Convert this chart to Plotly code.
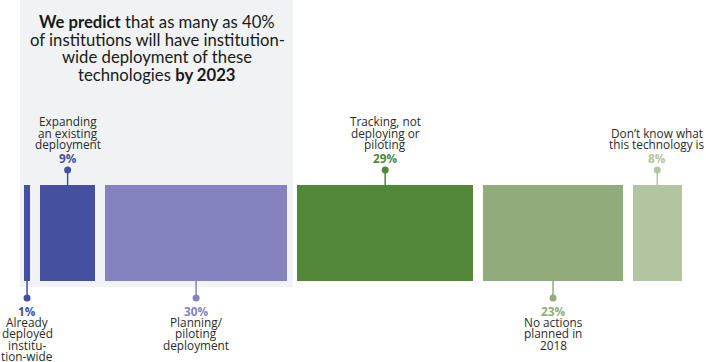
import plotly.graph_objects as go

# ---- data ----
values = [1, 9, 30, 29, 23, 8]
pct_labels = ["1%", "9%", "30%", "29%", "23%", "8%"]
descriptions = [
    ["Already", "deployed", "institu-", "tion-wide"],
    ["Expanding", "an existing", "deployment"],
    ["Planning/", "piloting", "deployment"],
    ["Tracking, not", "deploying or", "piloting"],
    ["No actions", "planned in", "2018"],
    ["Don\u2019t know what", "this technology is"],
]
label_side = ["below", "above", "below", "above", "below", "above"]
colors = ["#45509E", "#45509E", "#8583BF", "#52873A", "#92AB7A", "#B3C4A0"]
title_lines = [
    "<b>We predict</b> that as many as 40%",
    "of institutions will have institution-",
    "wide deployment of these",
    "technologies <b>by 2023</b>",
]

# ---- layout constants ----
W, H = 706, 362
GAP = 1.7            # gap between bars, in % units
PX_PER_UNIT = 6.06   # horizontal pixels per %
X0_PX = 24           # pixel of x=0
BAR_TOP_PX, BAR_BOT_PX = 185, 281
PX_PER_Y = BAR_BOT_PX - BAR_TOP_PX
FONT = "Lato"
LFONT = "Open Sans"
LSIZE = 11.8
TXT = "#2b2b2b"
SHIFT = 1.5  # visual centering correction for label text

def py(p):  # pixel row -> y data
    return (BAR_BOT_PX - p) / PX_PER_Y

def px(p):  # pixel col -> x data
    return (p - X0_PX) / PX_PER_UNIT

starts = []
s = 0.0
for v in values:
    starts.append(s)
    s += v + GAP
centers = [st + v / 2 for st, v in zip(starts, values)]

fig = go.Figure()

# grey highlight panel
fig.add_shape(type="rect", xref="x", yref="y", x0=px(20), x1=px(293),
              y0=py(287), y1=py(0), fillcolor="#F1F2F4", line_width=0, layer="below")

fig.add_trace(go.Bar(
    x=centers, y=[1] * len(values), width=values, base=0,
    marker=dict(color=colors, line=dict(width=0)),
    hoverinfo="skip", showlegend=False,
))

annotations = []
LH = 11.4
for i, (c, side) in enumerate(zip(centers, label_side)):
    col = colors[i]
    if side == "above":
        y_edge, y_dot = py(BAR_TOP_PX), py(170)
    else:
        y_edge, y_dot = py(BAR_BOT_PX), py(298)
    fig.add_trace(go.Scatter(x=[c, c], y=[y_edge, y_dot], mode="lines",
                             line=dict(color=col, width=1.5), hoverinfo="skip", showlegend=False))
    fig.add_trace(go.Scatter(x=[c], y=[y_dot], mode="markers",
                             marker=dict(color=col, size=7), hoverinfo="skip", showlegend=False))
    lines = descriptions[i]
    if side == "above":
        annotations.append(dict(x=c, y=py(159 - 1), text=f"<b>{pct_labels[i]}</b>",
                                font=dict(color=col, size=LSIZE, family=LFONT)))
        n = len(lines)
        for k, ln in enumerate(lines):
            annotations.append(dict(x=c, y=py(145.5 - SHIFT - (n - 1 - k) * LH), text=ln,
                                    font=dict(color=TXT, size=LSIZE, family=LFONT)))
    else:
        annotations.append(dict(x=c, y=py(312 - 1), text=f"<b>{pct_labels[i]}</b>",
                                font=dict(color=col, size=LSIZE, family=LFONT)))
        for k, ln in enumerate(lines):
            annotations.append(dict(x=c, y=py(323.5 - SHIFT + k * LH), text=ln,
                                    font=dict(color=TXT, size=LSIZE, family=LFONT)))

for k, ln in enumerate(title_lines):
    annotations.append(dict(x=px(157), y=py(22 + k * 17.7), text=ln,
                            font=dict(color="#1a1a1a", size=16.7, family=FONT)))

for a in annotations:
    a.update(xref="x", yref="y", showarrow=False, xanchor="center", yanchor="middle")

fig.update_layout(
    width=W, height=H,
    margin=dict(l=0, r=0, t=0, b=0),
    paper_bgcolor="white", plot_bgcolor="rgba(0,0,0,0)",
    annotations=annotations,
    xaxis=dict(range=[px(0), px(W)], visible=False, fixedrange=True),
    yaxis=dict(range=[py(H), py(0)], visible=False, fixedrange=True),
    bargap=0,
)

fig.write_html(
    "out.html",
    config={"displayModeBar": False},
    post_script="document.body.style.margin='0';document.body.style.overflow='hidden';",
)
